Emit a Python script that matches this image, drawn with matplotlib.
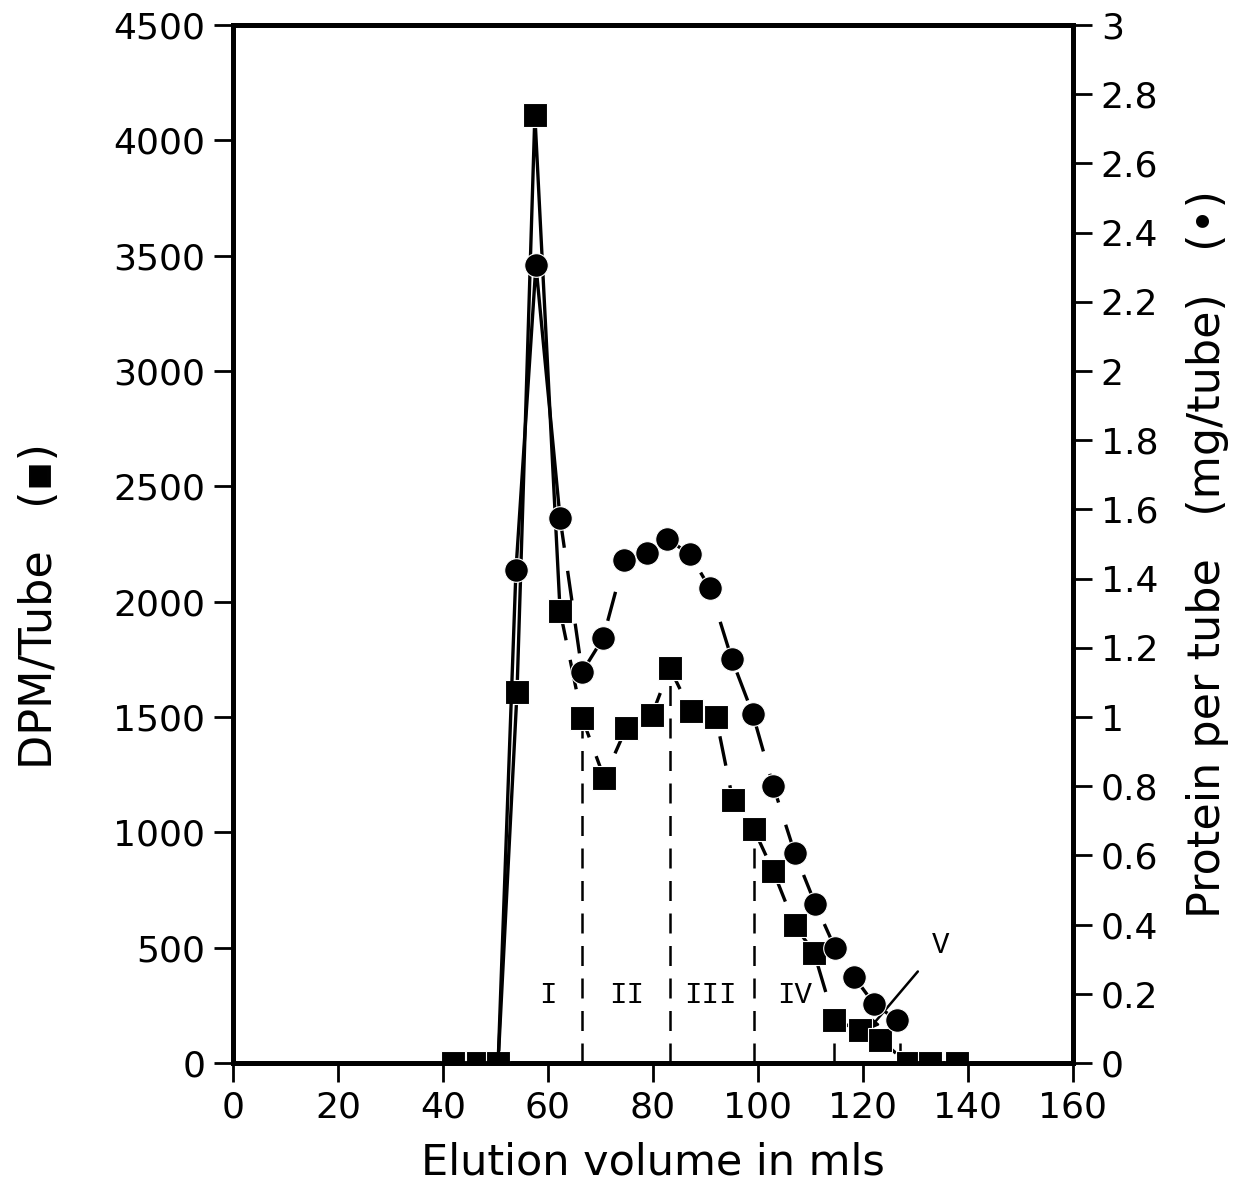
import matplotlib.pyplot as plt
from matplotlib.ticker import FuncFormatter, MultipleLocator

# elution volume (ml) and DPM per tube (squares)
dpm_ml = [41.9, 46.7, 50.5, 54.1, 57.5, 62.3, 66.5, 70.7, 74.9, 79.8, 83.2, 87.2,
          92.0, 95.2, 99.2, 102.9, 107.0, 110.7, 114.5, 119.4, 123.2, 128.6, 132.8, 137.9]
dpm = [0, 0, 0, 1608, 4110, 1960, 1496, 1236, 1452, 1509, 1712, 1526,
       1500, 1140, 1014, 832, 598, 477, 186, 143, 100, 0, 0, 0]

# elution volume (ml) and protein per tube in mg (circles)
prot_ml = [50.5, 53.9, 57.7, 62.3, 66.5, 70.5, 74.5, 78.9, 82.7, 87.0, 90.8, 95.0,
           99.0, 102.9, 107.0, 110.9, 114.7, 118.3, 122.1, 126.5]
protein = [0, 1.425, 2.306, 1.575, 1.130, 1.228, 1.454, 1.474, 1.514, 1.471, 1.373, 1.168,
           1.009, 0.801, 0.607, 0.460, 0.332, 0.249, 0.171, 0.124]

# fraction boundaries (dashed verticals) and their heights on the DPM scale
cut_ml = [66.5, 83.2, 99.2, 114.5, 127.0]
cut_dpm = [1496, 1712, 1014, 186, 110]

# fraction labels
frac_names = ["I", "II", "III", "IV"]
frac_ml = [60, 75, 91, 107]
frac_y = 295

plt.rcParams["font.family"] = ["DejaVu Sans"]

fig = plt.figure(figsize=(12.38, 11.90), dpi=100)
ax = fig.add_axes([0.1882, 0.1067, 0.8667 - 0.1882, 0.979 - 0.1067])
ax2 = ax.twinx()

lw = 2.4
# DPM series: solid over the main peak, dashed after it
n_peak = 6
ax.plot(dpm_ml[:n_peak], dpm[:n_peak], color="black", lw=lw, zorder=3)
ax.plot(dpm_ml[n_peak - 1:], dpm[n_peak - 1:], color="black", lw=lw,
        dashes=(9, 6), zorder=3)
ax.plot(dpm_ml, dpm, ls="none", marker="s", ms=17, color="black",
        mec="white", mew=0.8, zorder=5)

ax.vlines(cut_ml, 0, cut_dpm, colors="black", lw=1.8, linestyles=(0, (8, 5)), zorder=2)
for name, xm in zip(frac_names, frac_ml):
    ax.text(xm, frac_y, name, ha="center", va="center", fontsize=21,
            family="Liberation Mono")
ax.annotate("V", xy=(121.0, 143), xytext=(134.7, 511), fontsize=21,
            family="Liberation Mono", ha="center", va="center",
            arrowprops=dict(arrowstyle="-|>", lw=1.8, color="black",
                            shrinkA=12, shrinkB=0, mutation_scale=14))

# protein series
n_ppk = 4
ax2.plot(prot_ml[:n_ppk], protein[:n_ppk], color="black", lw=lw, zorder=3)
ax2.plot(prot_ml[n_ppk - 1:], protein[n_ppk - 1:], color="black", lw=lw,
         dashes=(9, 7), zorder=3)
ax2.plot(prot_ml[1:], protein[1:], ls="none", marker="o", ms=17, color="black",
         mec="white", mew=0.8, zorder=4)

ax.set_xlim(0, 160)
ax.set_ylim(0, 4500)
ax2.set_ylim(0, 3)
ax.xaxis.set_major_locator(MultipleLocator(20))
ax.yaxis.set_major_locator(MultipleLocator(500))
ax2.yaxis.set_major_locator(MultipleLocator(0.2))
ax2.yaxis.set_major_formatter(FuncFormatter(lambda v, p: f"{round(v, 1):g}"))

for a in (ax, ax2):
    for s in a.spines.values():
        s.set_linewidth(3.5)
    a.tick_params(direction="out", length=14, width=2, labelsize=26, pad=6)

ax.set_xlabel("Elution volume in mls", fontsize=31, labelpad=12)
ax.set_ylabel("DPM/Tube   (\u25aa)", fontsize=32)
ax.yaxis.set_label_coords(-0.205, 0.44)
ax2.set_ylabel("Protein per tube   (mg/tube)   (\u2022)", fontsize=32)
ax2.yaxis.set_label_coords(1.135, 0.49)

fig.savefig("out.png", dpi=100)
